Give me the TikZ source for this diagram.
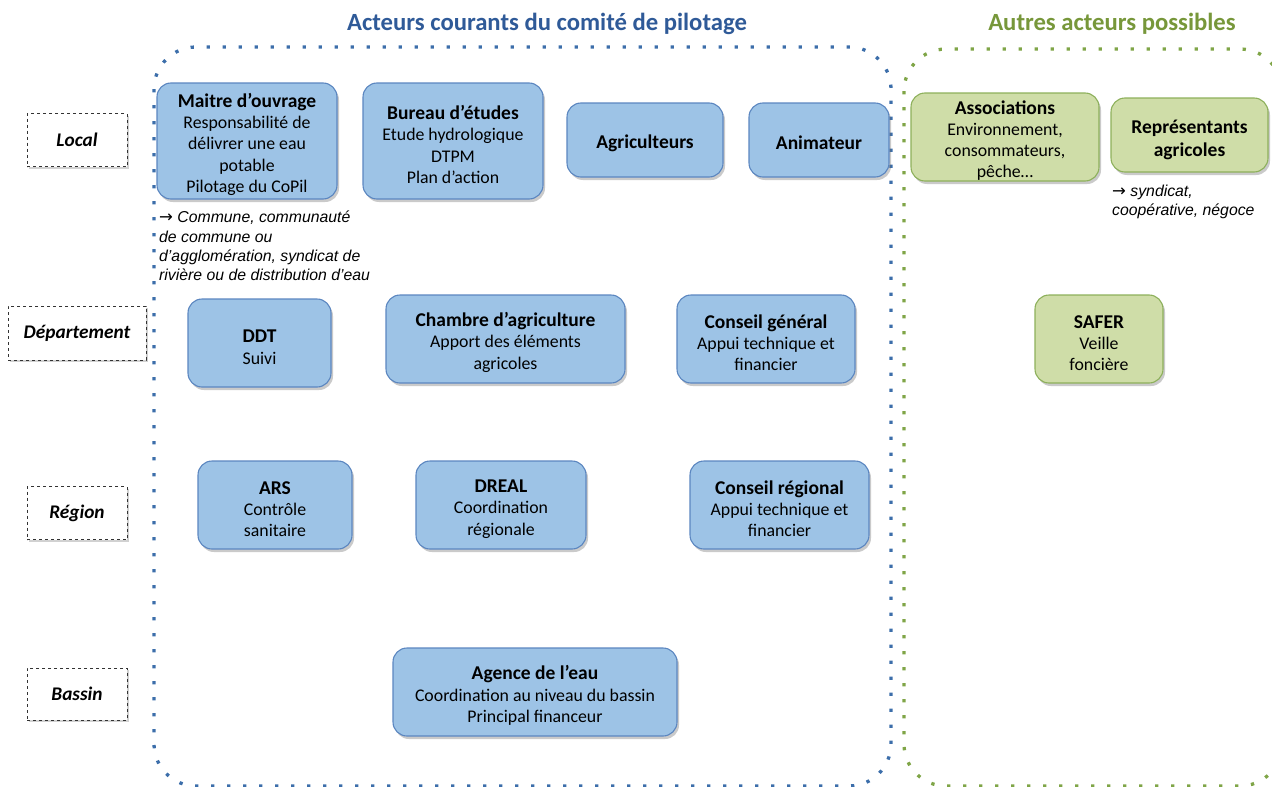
\documentclass[tikz,border=0pt]{standalone}
\usepackage{fontspec}
\setmainfont{Carlito}
\newfontfamily\arialfont{Liberation Sans}
\newfontfamily\arrowfont{DejaVu Sans}
\usetikzlibrary{shadows}
\definecolor{boxblue}{HTML}{9DC3E6}
\definecolor{boxblueb}{HTML}{5B86C0}
\definecolor{boxgreen}{HTML}{CFDDA8}
\definecolor{boxgreenb}{HTML}{8DB05B}
\definecolor{dotblue}{HTML}{3C6EAA}
\definecolor{dotgreen}{HTML}{7FA547}
\definecolor{titleblue}{HTML}{2F5A98}
\definecolor{titlegreen}{HTML}{77973A}
\newcommand{\hd}[1]{{\bfseries\fontsize{19.5}{21.2}\selectfont\rule{0pt}{21pt}#1}}
\newcommand{\single}{\rule{0pt}{19.5pt}}
\newcommand{\arr}{{\arrowfont\upshape\fontsize{16.5}{19}\selectfont →}}
\tikzset{
  actor/.style={draw=boxblueb, fill=boxblue, rounded corners=14pt, line width=1.1pt,
    align=center, inner sep=0pt, font=\fontsize{17.8}{21.2}\selectfont,
    drop shadow={shadow xshift=2pt, shadow yshift=-3pt, opacity=0.35, fill=black!60}},
  gactor/.style={actor, draw=boxgreenb, fill=boxgreen},
  level/.style={draw=black!80, dashed, line width=0.9pt, fill=white, inner sep=0pt,
    font=\fontsize{19.3}{22}\selectfont\bfseries\itshape,
    drop shadow={shadow xshift=1.5pt, shadow yshift=-2pt, opacity=0.3, fill=black!60}},
  region/.style={line width=3.3pt, dash pattern=on 3.3pt off 12.7pt, rounded corners=42pt},
  note/.style={align=left, inner sep=0pt, anchor=north west, font=\arialfont\itshape\fontsize{15.8}{19.3}\selectfont},
  title/.style={font=\fontsize{24.7}{28}\selectfont\bfseries},
}
\begin{document}
\begin{tikzpicture}[x=1pt,y=-1pt]
\useasboundingbox (0,0) rectangle (1272,787);
\clip (0,0) rectangle (1272,787);
% regions
\draw[region, dotblue] (154,47) rectangle (891,786);
\draw[region, dotgreen] (904,49) rectangle (1282,786);
% titles
\node[title, text=titleblue] (t1) at (547,24) {Acteurs courants du comité de pilotage};
\node[title, text=titlegreen] (t2) at (1112,24) {Autres acteurs possibles};
% levels
\node[level, minimum width=100pt, minimum height=53pt] (local) at (77,140) {Local};
\node[level, minimum width=138pt, minimum height=54pt] (dep) at (77,333) {Département};
\node[level, minimum width=100pt, minimum height=53pt] (reg) at (77,513) {Région};
\node[level, minimum width=100pt, minimum height=52pt] (bas) at (77,694) {Bassin};
% local actors
\node[actor, minimum width=180pt, minimum height=116pt] (mo) at (247,141)
  {\hd{Maitre d’ouvrage}\\Responsabilité de\\délivrer une eau\\potable\\Pilotage du CoPil};
\node[actor, minimum width=180pt, minimum height=116pt] (be) at (453,141)
  {\hd{Bureau d’études}\\Etude hydrologique\\DTPM\\Plan d’action};
\node[actor, minimum width=156pt, minimum height=74pt, font=\fontsize{19.5}{21.2}\selectfont\bfseries] (agr) at (645,140) {\single Agriculteurs};
\node[actor, minimum width=140pt, minimum height=74pt, font=\fontsize{19.5}{21.2}\selectfont\bfseries] (ani) at (819,140) {\single Animateur};
% departement
\node[actor, minimum width=143pt, minimum height=88pt] (ddt) at (259.5,343)
  {\hd{DDT}\\Suivi};
\node[actor, minimum width=239pt, minimum height=88pt] (ca) at (505.5,339)
  {\hd{Chambre d’agriculture}\\Apport des éléments\\agricoles};
\node[actor, minimum width=178pt, minimum height=88pt] (cg) at (766,339)
  {\hd{Conseil général}\\Appui technique et\\financier};
% region
\node[actor, minimum width=154pt, minimum height=88pt] (ars) at (275,505)
  {\hd{ARS}\\Contrôle\\sanitaire};
\node[actor, minimum width=170pt, minimum height=88pt] (dreal) at (501,505)
  {\hd{DREAL}\\Coordination\\régionale};
\node[actor, minimum width=179pt, minimum height=88pt] (cr) at (779.5,505)
  {\hd{Conseil régional}\\Appui technique et\\financier};
% bassin
\node[actor, minimum width=284pt, minimum height=88pt] (ae) at (535,692)
  {\hd{Agence de l’eau}\\Coordination au niveau du bassin\\Principal financeur};
% other actors
\node[gactor, minimum width=188pt, minimum height=88pt] (ass) at (1005,137)
  {\hd{Associations}\\Environnement,\\consommateurs,\\pêche…};
\node[gactor, minimum width=157pt, minimum height=74pt, font=\fontsize{19.5}{22.5}\selectfont\bfseries] (rep) at (1189.5,135)
  {\rule{0pt}{23pt}Représentants\\agricoles};
\node[gactor, minimum width=128pt, minimum height=88pt] (safer) at (1099,339)
  {\hd{SAFER}\\Veille\\foncière};
% notes
\node[note] (n1) at (159,211) {\arr\ Commune, communauté\\de commune ou\\d’agglomération, syndicat de\\rivière ou de distribution d’eau};
\node[note] (n2) at (1112,185) {\arr\ syndicat,\\coopérative, négoce};
\end{tikzpicture}
\end{document}
